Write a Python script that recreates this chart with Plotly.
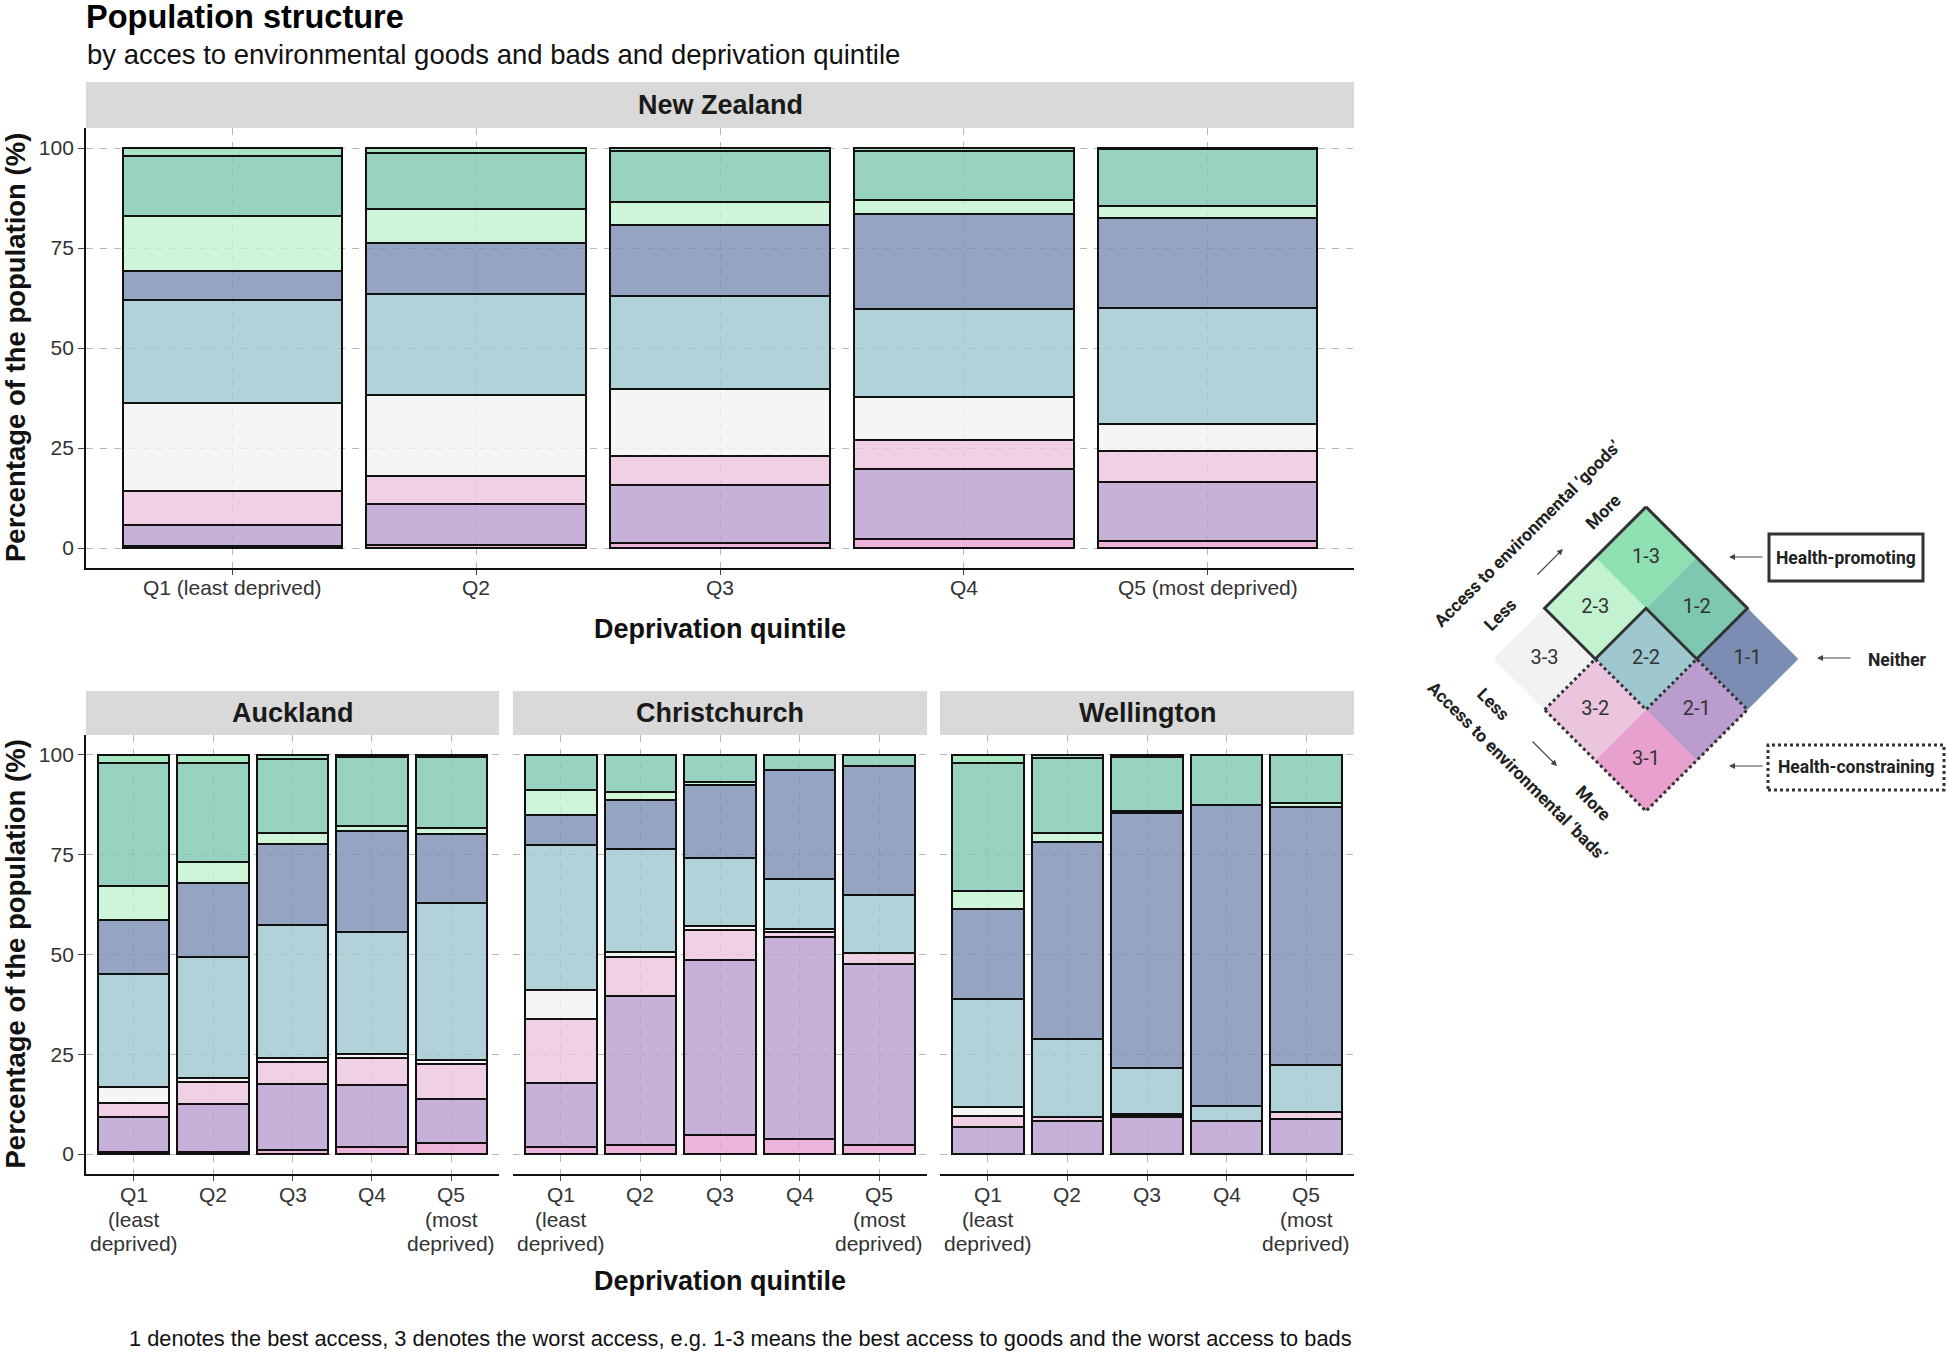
import plotly.graph_objects as go

W, H = 1948, 1354
FONT = "Liberation Sans, Arial, Helvetica, sans-serif"
LEG_FONT = "Roboto, Liberation Sans, Arial, sans-serif"

# ---------------- data ----------------
STACK_ORDER = ["3-1", "2-1", "3-2", "3-3", "2-2", "1-1", "2-3", "1-2", "1-3"]
QUINTILES = ["Q1", "Q2", "Q3", "Q4", "Q5"]
NZ_TICKS = ["Q1 (least deprived)", "Q2", "Q3", "Q4", "Q5 (most deprived)"]
CITY_TICKS = ["Q1\n(least\ndeprived)", "Q2", "Q3", "Q4", "Q5\n(most\ndeprived)"]
Y_TICKS = [0, 25, 50, 75, 100]

# each row = one quintile, columns follow STACK_ORDER (percent of population)
new_zealand = [
    [0.5, 5.2, 8.5, 22.1, 25.7, 7.3, 13.7, 15.0, 2.0],
    [0.8, 10.1, 7.2, 20.1, 25.4, 12.6, 8.6, 14.0, 1.2],
    [1.3, 14.4, 7.3, 16.8, 23.3, 17.6, 5.8, 12.8, 0.7],
    [2.3, 17.4, 7.2, 10.9, 21.9, 23.7, 3.5, 12.4, 0.7],
    [1.7, 14.7, 7.9, 6.8, 28.9, 22.6, 3.0, 14.1, 0.3],
]
auckland = [
    [0.4, 8.8, 3.5, 4.0, 28.3, 13.6, 8.5, 30.8, 2.1],
    [0.5, 12.1, 5.4, 1.1, 30.3, 18.4, 5.4, 24.9, 1.9],
    [1.0, 16.6, 5.4, 1.1, 33.2, 20.4, 2.8, 18.4, 1.1],
    [1.8, 15.6, 6.7, 1.0, 30.5, 25.4, 1.2, 17.4, 0.4],
    [2.7, 11.1, 8.8, 1.0, 39.2, 17.5, 1.5, 17.8, 0.4],
]
christchurch = [
    [1.8, 15.9, 16.2, 7.1, 36.4, 7.5, 6.3, 8.8, 0],
    [2.3, 37.3, 9.8, 1.2, 25.8, 12.3, 1.9, 9.4, 0],
    [4.8, 43.9, 7.4, 1.1, 17.1, 18.2, 0.6, 6.9, 0],
    [3.8, 50.6, 1.3, 0.8, 12.5, 27.2, 0, 3.8, 0],
    [2.3, 45.4, 2.7, 0, 14.5, 32.4, 0, 2.7, 0],
]
wellington = [
    [0, 6.7, 2.9, 2.1, 27.2, 22.4, 4.6, 32.0, 2.1],
    [0, 8.2, 1.0, 0, 19.7, 49.3, 2.3, 18.7, 0.8],
    [0, 9.4, 0.4, 0.3, 11.5, 63.8, 0.6, 13.6, 0.4],
    [0, 8.2, 0, 0, 3.9, 75.3, 0, 12.6, 0],
    [0, 8.8, 1.7, 0, 11.7, 64.7, 1.1, 12.0, 0],
]

# ---------------- styles ----------------
COLORS = {
    "1-3": (143, 224, 176),
    "2-3": (195, 242, 208),
    "1-2": (126, 199, 176),
    "3-3": (242, 242, 242),
    "2-2": (158, 199, 207),
    "1-1": (123, 141, 179),
    "3-2": (235, 196, 221),
    "2-1": (186, 157, 206),
    "3-1": (232, 160, 206),
}
GRID = "#b8b8b8"


def rgba(c, a):
    return f"rgba({c[0]},{c[1]},{c[2]},{a})"


def px_x(p):
    return p / W


def px_y(p):
    return 1 - p / H


PANELS = [
    dict(name="New Zealand", data=new_zealand, ticks=NZ_TICKS, x0=86, x1=1354, y0=128, y1=568, s0=82,
         left=True, tick_y=[588]),
    dict(name="Auckland", data=auckland, ticks=CITY_TICKS, x0=86, x1=499, y0=735, y1=1174, s0=691,
         left=True, tick_y=[1194, 1219, 1243]),
    dict(name="Christchurch", data=christchurch, ticks=CITY_TICKS, x0=513, x1=927, y0=735, y1=1174, s0=691,
         left=False, tick_y=[1194, 1219, 1243]),
    dict(name="Wellington", data=wellington, ticks=CITY_TICKS, x0=940, x1=1354, y0=735, y1=1174, s0=691,
         left=False, tick_y=[1194, 1219, 1243]),
]

fig = go.Figure()
layout = dict(
    width=W, height=H, margin=dict(l=0, r=0, t=0, b=0),
    paper_bgcolor="white", plot_bgcolor="white",
    barmode="stack", showlegend=False,
    font=dict(family=FONT, color="#222"),
)
annotations = []
shapes = []

for i, p in enumerate(PANELS, start=1):
    xa = "x" if i == 1 else f"x{i}"
    ya = "y" if i == 1 else f"y{i}"
    for ci, cat in enumerate(STACK_ORDER):
        vals = [row[ci] if row[ci] > 0 else None for row in p["data"]]
        fig.add_trace(go.Bar(
            x=QUINTILES, y=vals, name=cat, width=0.9,
            marker=dict(color=rgba(COLORS[cat], 0.8), line=dict(color="#111", width=2)),
            xaxis=xa, yaxis=ya, hovertemplate=cat + ": %{y}%<extra></extra>",
        ))
    layout["xaxis" if i == 1 else f"xaxis{i}"] = dict(
        domain=[px_x(p["x0"]), px_x(p["x1"])], anchor=ya, type="category",
        range=[-0.6, 4.6], tickvals=QUINTILES, showticklabels=False,
        showline=True, linecolor="#111", linewidth=1.8,
        ticks="outside", ticklen=5, tickwidth=1.3, tickcolor="#444",
        showgrid=True, gridcolor=GRID, gridwidth=1.3, griddash="7px,7px",
        zeroline=False, fixedrange=True,
    )
    layout["yaxis" if i == 1 else f"yaxis{i}"] = dict(
        domain=[px_y(p["y1"]), px_y(p["y0"])], anchor=xa, range=[-5, 105],
        tickvals=Y_TICKS, showticklabels=p["left"],
        showline=p["left"], linecolor="#111", linewidth=1.8,
        ticks="outside" if p["left"] else "", ticklen=6, tickwidth=1.3, tickcolor="#444",
        showgrid=True, gridcolor=GRID, gridwidth=1.3, griddash="7px,7px",
        tickfont=dict(size=21, color="#333", family=FONT), zeroline=False, fixedrange=True,
    )
    # x tick labels (one annotation per text line, for ggplot-like line spacing)
    for q, lab in zip(QUINTILES, p["ticks"]):
        for ln, yy in zip(lab.split("\n"), p["tick_y"]):
            annotations.append(dict(text=ln, xref=xa, yref="paper", x=q, y=px_y(yy),
                                    xanchor="center", yanchor="middle", showarrow=False,
                                    font=dict(size=21, color="#333", family=FONT)))
    # strip
    shapes.append(dict(type="rect", xref="paper", yref="paper",
                       x0=px_x(p["x0"]), x1=px_x(p["x1"]), y0=px_y(p["y0"]), y1=px_y(p["s0"]),
                       fillcolor="#d9d9d9", line=dict(width=0), layer="below"))
    annotations.append(dict(text="<b>" + p["name"] + "</b>", xref="paper", yref="paper",
                            x=px_x((p["x0"] + p["x1"]) / 2), y=px_y((p["s0"] + p["y0"]) / 2),
                            xanchor="center", yanchor="middle", showarrow=False,
                            font=dict(size=27, color="#1a1a1a", family=FONT)))

# axis titles
for yc in [(128 + 568) / 2, (735 + 1174) / 2]:
    annotations.append(dict(text="<b>Percentage of the population (%)</b>", xref="paper", yref="paper",
                            x=px_x(15), y=px_y(yc), textangle=-90, xanchor="center", yanchor="middle",
                            showarrow=False, font=dict(size=27.5, color="#111", family=FONT)))
for yc in [629, 1281]:
    annotations.append(dict(text="<b>Deprivation quintile</b>", xref="paper", yref="paper",
                            x=px_x(720), y=px_y(yc), xanchor="center", yanchor="middle",
                            showarrow=False, font=dict(size=27, color="#111", family=FONT)))

# title, subtitle, caption
annotations.append(dict(text="<b>Population structure</b>", xref="paper", yref="paper",
                        x=px_x(84), y=px_y(17), xanchor="left", yanchor="middle", showarrow=False,
                        font=dict(size=32.5, color="#000", family=FONT)))
annotations.append(dict(text="by acces to environmental goods and bads and deprivation quintile",
                        xref="paper", yref="paper", x=px_x(85), y=px_y(54), xanchor="left",
                        yanchor="middle", showarrow=False, font=dict(size=27.5, color="#111", family=FONT)))
annotations.append(dict(text="1 denotes the best access, 3 denotes the worst access, e.g. 1-3 means the best access to goods and the worst access to bads",
                        xref="paper", yref="paper", x=px_x(1354), y=px_y(1338), xanchor="right",
                        yanchor="middle", showarrow=False, font=dict(size=21.8, color="#111", family=FONT)))

# ---------------- bivariate key (diamond) ----------------
DC_X, DC_Y, HALF = 1646, 659, 50.7   # diamond centre (px) and cell half-diagonal (px)
KX0, KX1, KY0, KY1 = 1410, 1945, 470, 880  # key axes area (px)
GOODS = [1, 2, 3]
BADS = [1, 2, 3]


def centre(g, b):
    return (-(g - 2) - (b - 2), (b - 2) - (g - 2))


def vertex(g, b, which):
    cx, cy = centre(g, b)
    off = {"top": (0, 1), "bottom": (0, -1), "left": (-1, 0), "right": (1, 0)}[which]
    return (cx + off[0], cy + off[1])


ka = dict(visible=False, showgrid=False, zeroline=False, fixedrange=True)
layout["xaxis5"] = dict(ka, domain=[px_x(KX0), px_x(KX1)], anchor="y5",
                        range=[(KX0 - DC_X) / HALF, (KX1 - DC_X) / HALF])
layout["yaxis5"] = dict(ka, domain=[px_y(KY1), px_y(KY0)], anchor="x5",
                        range=[-(KY1 - DC_Y) / HALF, (DC_Y - KY0) / HALF])

lab_x, lab_y, lab_t = [], [], []
for g in GOODS:
    for b in BADS:
        key = f"{g}-{b}"
        pts = [vertex(g, b, w) for w in ["top", "right", "bottom", "left", "top"]]
        fig.add_trace(go.Scatter(
            x=[q[0] for q in pts], y=[q[1] for q in pts], mode="lines", fill="toself",
            fillcolor=rgba(COLORS[key], 1), line=dict(color=rgba(COLORS[key], 1), width=0.6),
            xaxis="x5", yaxis="y5", hoverinfo="skip"))
        cx, cy = centre(g, b)
        lab_x.append(cx)
        lab_y.append(cy)
        lab_t.append(key)

promo = [vertex(1, 3, "top"), vertex(1, 2, "right"), vertex(1, 2, "bottom"), vertex(2, 2, "top"),
         vertex(2, 3, "bottom"), vertex(2, 3, "left"), vertex(1, 3, "top")]
constr = [vertex(3, 2, "left"), vertex(3, 2, "top"), vertex(3, 1, "top"), vertex(2, 1, "top"),
          vertex(2, 1, "right"), vertex(3, 1, "bottom"), vertex(3, 2, "left")]
fig.add_trace(go.Scatter(x=[q[0] for q in promo], y=[q[1] for q in promo], mode="lines",
                         line=dict(color="#333", width=3), xaxis="x5", yaxis="y5", hoverinfo="skip"))
fig.add_trace(go.Scatter(x=[q[0] for q in constr], y=[q[1] for q in constr], mode="lines",
                         line=dict(color="#333", width=3, dash="dot"), xaxis="x5", yaxis="y5",
                         hoverinfo="skip"))
fig.add_trace(go.Scatter(x=lab_x, y=lab_y, text=lab_t, mode="text",
                         textfont=dict(size=20, color="#333", family=LEG_FONT),
                         xaxis="x5", yaxis="y5", hoverinfo="skip"))

# key boxes
shapes.append(dict(type="rect", xref="paper", yref="paper", x0=px_x(1769), x1=px_x(1923),
                   y0=px_y(581), y1=px_y(534), line=dict(color="#333", width=3), fillcolor="white"))
shapes.append(dict(type="rect", xref="paper", yref="paper", x0=px_x(1768), x1=px_x(1944),
                   y0=px_y(790), y1=px_y(745), line=dict(color="#333", width=3, dash="dot"),
                   fillcolor="white"))


def key_text(t, x, y, size=17.5, angle=0, bold=True):
    annotations.append(dict(text=("<b>%s</b>" % t) if bold else t, xref="paper", yref="paper",
                            x=px_x(x), y=px_y(y), xanchor="center", yanchor="middle",
                            textangle=angle, showarrow=False,
                            font=dict(size=size, color="#222", family=LEG_FONT)))


def key_arrow(x_from, y_from, x_to, y_to):
    annotations.append(dict(text="", xref="paper", yref="paper", x=px_x(x_to), y=px_y(y_to),
                            ax=x_from - x_to, ay=y_from - y_to, axref="pixel", ayref="pixel",
                            showarrow=True, arrowhead=2, arrowsize=1, arrowwidth=1.2,
                            arrowcolor="#444"))


key_text("Health-promoting", 1846, 558, size=17.5)
key_text("Neither", 1897, 660, size=17.5)
key_text("Health-constraining", 1856, 767, size=17.5)
key_arrow(1764, 557, 1729, 557)
key_arrow(1852, 658, 1817, 658)
key_arrow(1764, 766, 1729, 766)

key_text("Access to environmental \u2018goods\u2019", 1527, 534, size=17.5, angle=-45)
key_text("More", 1603, 512, size=17.5, angle=-45)
key_text("Less", 1500, 615, size=17.5, angle=-45)
key_arrow(1536, 576, 1563, 549)
key_text("Access to environmental \u2018bads\u2019", 1517, 771, size=17.5, angle=45)
key_text("Less", 1493, 704, size=17.5, angle=45)
key_text("More", 1593, 803, size=17.5, angle=45)
key_arrow(1531, 740, 1557, 766)

layout["annotations"] = annotations
layout["shapes"] = shapes
fig.update_layout(**layout)
fig.write_html(
    "out.html",
    config={"displayModeBar": False},
    post_script="document.body.style.margin='0px';document.body.style.padding='0px';"
                "document.body.style.overflow='hidden';",
)
